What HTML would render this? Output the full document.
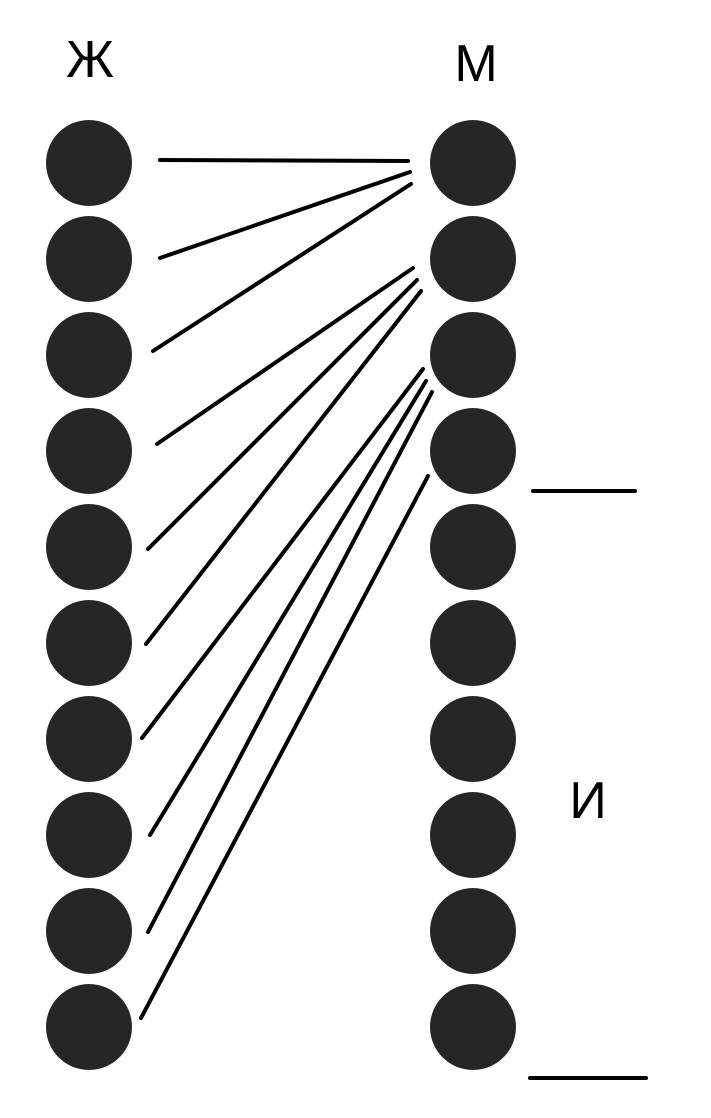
<!DOCTYPE html>
<html><head><meta charset="utf-8"><style>body{margin:0;background:#fff}</style></head>
<body>
<svg width="711" height="1113" xmlns="http://www.w3.org/2000/svg">
<g fill="#262626">
<circle cx="89" cy="163" r="43"/><circle cx="89" cy="259" r="43"/><circle cx="89" cy="355" r="43"/><circle cx="89" cy="451" r="43"/><circle cx="89" cy="547" r="43"/><circle cx="89" cy="643" r="43"/><circle cx="89" cy="739" r="43"/><circle cx="89" cy="835" r="43"/><circle cx="89" cy="931" r="43"/><circle cx="89" cy="1027" r="43"/>
<circle cx="473" cy="163" r="43"/><circle cx="473" cy="259" r="43"/><circle cx="473" cy="355" r="43"/><circle cx="473" cy="451" r="43"/><circle cx="473" cy="547" r="43"/><circle cx="473" cy="643" r="43"/><circle cx="473" cy="739" r="43"/><circle cx="473" cy="835" r="43"/><circle cx="473" cy="931" r="43"/><circle cx="473" cy="1027" r="43"/>
</g>
<g stroke="#000" stroke-width="4" stroke-linecap="round">
<line x1="160" y1="160" x2="408" y2="161"/>
<line x1="160" y1="258" x2="410" y2="172"/>
<line x1="153" y1="351" x2="411" y2="184"/>
<line x1="157" y1="444" x2="413" y2="268"/>
<line x1="148" y1="549" x2="417" y2="280"/>
<line x1="146" y1="644" x2="421" y2="291"/>
<line x1="142" y1="738" x2="423" y2="369"/>
<line x1="150" y1="835" x2="426" y2="381"/>
<line x1="148" y1="932" x2="432" y2="392"/>
<line x1="141" y1="1018" x2="428" y2="476"/>
<line x1="533" y1="491" x2="635" y2="491"/>
<line x1="530" y1="1078" x2="646" y2="1078"/>
</g>
<g font-family="Liberation Sans, sans-serif" font-size="52" text-anchor="middle" fill="#000">
<text x="90" y="77">Ж</text>
<text x="476" y="81">М</text>
<text x="588" y="818">И</text>
</g>
</svg>
</body></html>
